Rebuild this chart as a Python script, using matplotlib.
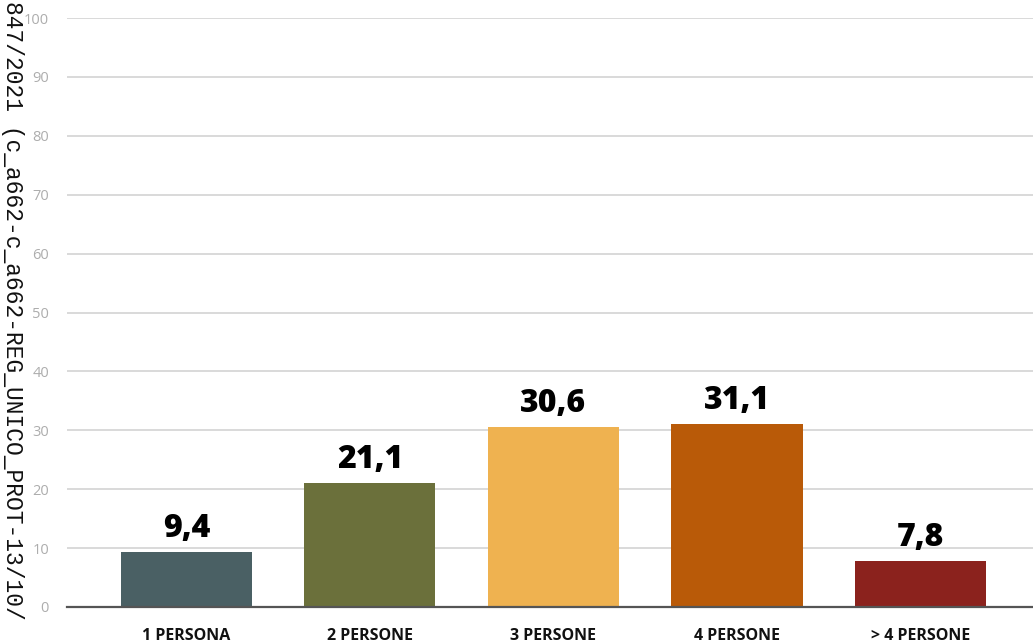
import matplotlib
matplotlib.use("Agg")
import matplotlib.pyplot as plt

categories = ["1 PERSONA", "2 PERSONE", "3 PERSONE", "4 PERSONE", "> 4 PERSONE"]
values = [9.4, 21.1, 30.6, 31.1, 7.8]
value_labels = ["9,4", "21,1", "30,6", "31,1", "7,8"]
colors = ["#4A6064", "#6B703B", "#EFB250", "#B95A08", "#8B221D"]
yticks = [0, 10, 20, 30, 40, 50, 60, 70, 80, 90, 100]
watermark = "847/2021 (c_a662-c_a662-REG_UNICO_PROT-13/10/"

W, H = 1033, 644
fig = plt.figure(figsize=(W / 100, H / 100), dpi=100)
ax = fig.add_axes([67 / W, (H - 607) / H, 1 - 67 / W, (607 - 18) / H])

x = list(range(len(categories)))
ax.bar(x, values, width=0.714, color=colors, zorder=3)
ax.set_xlim(-0.651, 4.613)
ax.set_ylim(0, 100)

ax.set_yticks(yticks)
ax.set_yticklabels([str(t) for t in yticks], fontsize=10.5, color="#ADADAD", family="Open Sans")
ax.tick_params(axis="y", length=0, pad=13)
ax.set_xticks(x)
ax.set_xticklabels(categories, fontsize=11.5, fontweight="bold", family="Open Sans", color="#111111")
ax.tick_params(axis="x", length=0, pad=15)

ax.grid(axis="y", color="#D0D0D0", linewidth=1.1, zorder=0)
for s in ["top", "right", "left"]:
    ax.spines[s].set_visible(False)
ax.spines["bottom"].set_color("#555555")
ax.spines["bottom"].set_linewidth(1.6)
ax.spines["bottom"].set_zorder(4)

for xi, v, lab in zip(x, values, value_labels):
    ax.annotate(lab, (xi, v), xytext=(0, 10.5), textcoords="offset points",
                ha="center", va="baseline", fontsize=23, fontweight=800,
                family="Open Sans", color="#000000", zorder=5)

fig.text(12 / W, 1 - 1 / H, watermark, rotation=-90, ha="center", va="top",
         family="Liberation Mono", fontsize=16.5, color="#111111")

fig.savefig("out.png", dpi=100)
